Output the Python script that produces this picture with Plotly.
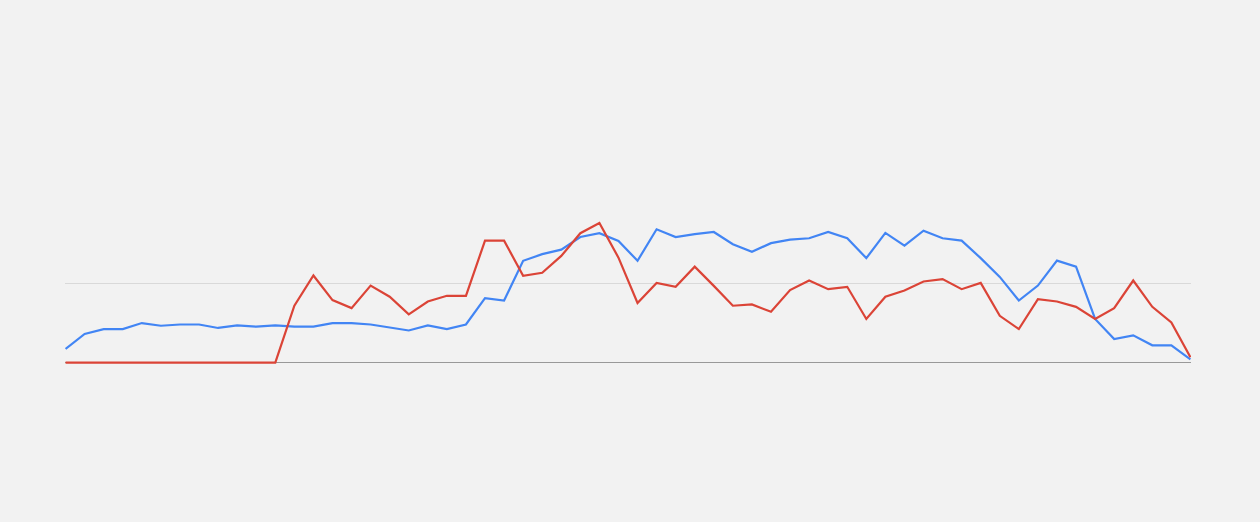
import plotly.graph_objects as go

periods = list(range(60))

blue_values = [
    8.7, 18.2, 21.3, 21.3, 25.1, 23.4, 24.2, 24.2, 22.0, 23.6,
    22.8, 23.6, 22.8, 22.8, 25.1, 25.1, 24.2, 22.2, 20.4, 23.6,
    21.3, 24.2, 40.9, 39.4, 64.6, 68.8, 71.7, 79.7, 82.1, 77.2,
    64.6, 84.6, 79.7, 81.5, 82.9, 75.1, 70.3, 75.8, 78.0, 78.9,
    82.9, 78.9, 66.3, 82.3, 74.2, 83.7, 78.9, 77.4, 66.3, 54.4,
    39.4, 48.9, 64.7, 60.9, 27.7, 15.0, 17.3, 11.0, 11.0, 2.1,
]

red_values = [
    0, 0, 0, 0, 0, 0, 0, 0, 0, 0,
    0, 0, 36.1, 55.3, 39.7, 34.6, 48.9, 41.8, 30.6, 38.8,
    42.4, 42.4, 77.4, 77.4, 55.1, 57.0, 67.7, 82.1, 88.6, 66.6,
    37.8, 50.6, 48.1, 60.9, 48.7, 36.1, 36.9, 32.3, 46.0, 52.1,
    46.6, 48.1, 27.7, 41.8, 45.8, 51.5, 53.0, 46.6, 50.6, 29.7,
    21.3, 40.3, 38.8, 35.4, 27.7, 34.6, 52.1, 35.4, 25.5, 3.4,
]

grid_ticks = [50]

fig = go.Figure()
fig.add_trace(go.Scatter(x=periods, y=blue_values, mode="lines",
                         line=dict(color="#4285F4", width=2.2), showlegend=False))
fig.add_trace(go.Scatter(x=periods, y=red_values, mode="lines",
                         line=dict(color="#DB4437", width=2.2), showlegend=False))

fig.update_layout(
    width=1260, height=522,
    margin=dict(l=65, r=69, t=205, b=157, pad=0),
    paper_bgcolor="#f2f2f2", plot_bgcolor="#f2f2f2",
    xaxis=dict(range=[-0.03, 59.03], showgrid=False, zeroline=False, showticklabels=False,
               showline=False, ticks=""),
    yaxis=dict(range=[-1.5, 100], tickvals=grid_ticks, showticklabels=False,
               gridcolor="#d9d9d9", gridwidth=1, zeroline=True, zerolinecolor="#999999",
               zerolinewidth=1, ticks=""),
)

fig.write_html("out.html", config={"displayModeBar": False},
               post_script="document.body.style.margin='0';document.body.style.background='#f2f2f2';")
